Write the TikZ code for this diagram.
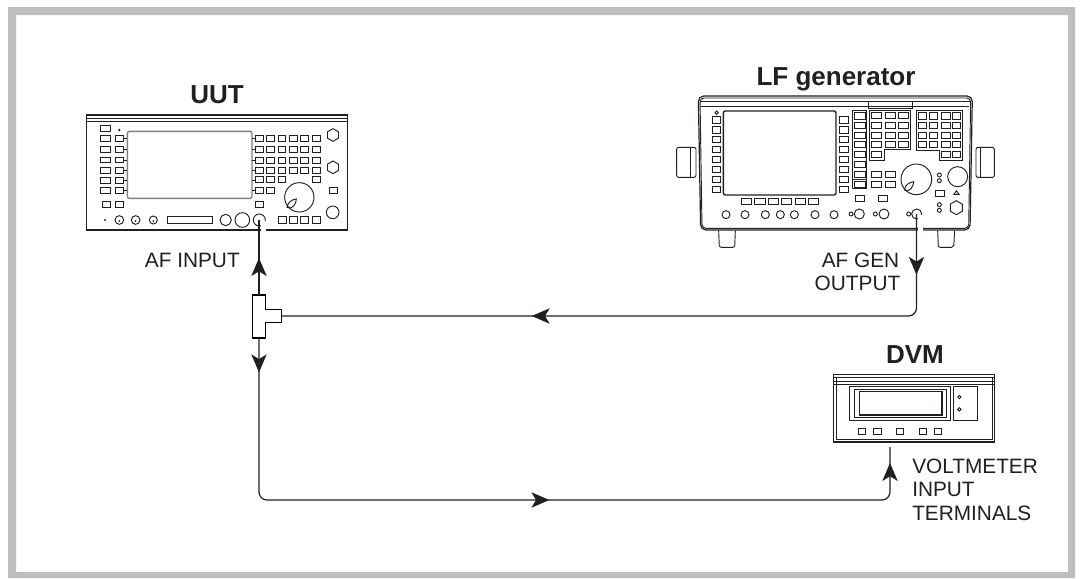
\documentclass[tikz,border=0pt]{standalone}
\usepackage{fontspec}
\setmainfont{Liberation Sans}
\usetikzlibrary{arrows.meta,decorations.markings}
\definecolor{framegray}{RGB}{190,190,190}
\definecolor{ink}{RGB}{35,31,32}
\newcommand{\keys}[3]{\foreach \xa/\xb in {#1}{\foreach \ya/\yb in {#2}{\draw[#3] (\xa,\ya) rectangle (\xb,\yb);}}}
\newcommand{\hexa}[3]{\draw (#1,#2)++(90:#3) -- ++(-30:#3) -- ++(-90:#3) -- ++(-150:#3) -- ++(150:#3) -- ++(90:#3) -- cycle;}
\newcommand{\leaf}[2]{\draw (#1,#2) .. controls (#1+2,#2-14) and (#1+14,#2-24) .. (#1+28,#2-25) .. controls (#1+28,#2-10) and (#1+16,#2+8) .. (#1,#2) -- cycle;}
\tikzset{
 x=0.75pt,y=-0.75pt,
 draw=ink,
 zoomA/.style={shift={(70,70)},x=0.25pt,y=-0.25pt,line width=0.7pt,draw=ink},
 zoomB/.style={shift={(660,60)},x=0.25pt,y=-0.25pt,line width=0.7pt,draw=ink},
 zoomC/.style={shift={(800,340)},x=0.25pt,y=-0.25pt,line width=0.7pt,draw=ink},
 title/.style={font=\fontsize{19.5pt}{22pt}\bfseries,text=ink,inner sep=0pt,anchor=base},
 lab/.style={font=\fontsize{15.6pt}{17.5pt}\selectfont,text=ink,inner sep=0pt,align=left},
 wire/.style={line width=0.9pt,draw=ink},
 tipa/.style={decoration={markings,mark=at position #1 with {\arrow{Stealth[length=13.5pt,width=11.5pt,inset=3.5pt]}}},postaction={decorate}},
 tipb/.style 2 args={decoration={markings,mark=at position #1 with {\arrow{Stealth[length=13.5pt,width=11.5pt,inset=3.5pt]}},mark=at position #2 with {\arrow{Stealth[length=13.5pt,width=11.5pt,inset=3.5pt]}}},postaction={decorate}},
 tipc/.style n args={3}{decoration={markings,mark=at position #1 with {\arrow{Stealth[length=13.5pt,width=11.5pt,inset=3.5pt]}},mark=at position #2 with {\arrow{Stealth[length=13.5pt,width=11.5pt,inset=3.5pt]}},mark=at position #3 with {\arrow{Stealth[length=13.5pt,width=11.5pt,inset=3.5pt]}}},postaction={decorate}},
}
\begin{document}
\begin{tikzpicture}
\useasboundingbox (0,0) rectangle (1081,578);
\fill[white] (0,0) rectangle (1081,578);
\fill[framegray,even odd rule] (8,7) rectangle (1075,578) (16,15) rectangle (1068,572);

% ---- UUT
\begin{scope}[zoomA]
 \draw[line width=0.9pt] (50,135) rectangle (832,480);
 \draw (50,145) -- (832,145) (50,155) -- (832,155);
 \draw[line width=1pt,draw=gray,rounded corners=1.5pt] (172,184) rectangle (546,385);
 \keys{92/122}{167/185,197/215,229/247,262/278,293/311,322/340,351/369}{}
 \keys{136/160}{197/215,229/247,262/278,293/311,322/340,351/369,394/412}{}
 \draw (97,394) rectangle (120,412);
 \foreach \y in {206,238,270,302,331,360} {\draw (160,\y) -- (172,\y) (546,\y) -- (555,\y);}
 \keys{555/579,590/613,624/647,658/682,692/716,726/750}{197/215,229/247,261/279,291/309}{}
 \keys{555/579,590/613,624/647,726/750}{320/338}{}
 \keys{555/579,590/613}{351/369}{}
 \draw (555,394) rectangle (579,412);
 \hexa{789}{195}{19}
 \hexa{789}{292}{19}
 \draw (778,351) rectangle (802,369);
 \draw (788,427) circle (19);
 \draw (688,382) circle (44);
 \leaf{651}{412}
 \keys{624/648,658/682,692/716,726/750}{439/460}{}
 \fill[ink] (148,180) circle (4);
 \fill[ink] (105,450) circle (3.5);
 \foreach \x/\r in {148/13,197/13,250/12} {\draw (\x,450) circle (\r); \fill[ink] (\x,453) circle (3);}
 \draw (292,440) rectangle (426,460);
 \draw (467,450) circle (17) (517,450) circle (22) (568,450) circle (18);
 \fill[white] (572,454) rectangle (587,486);
\end{scope}
\node[title] (uutlabel) at (217,103.3) {UUT};

% ---- LF generator
\begin{scope}[zoomB]
 \draw[line width=0.9pt,rounded corners=4pt] (122,510) -- (115,108) -- (937,108) -- (930,510) -- cycle;
 \draw[rounded corners=3pt] (126,505) -- (120,114) -- (932,114) -- (926,505) -- cycle;
 \draw (122,140) -- (928,140) (121,125) -- (625,125) (757,125) -- (931,125);
 \draw[line width=0.9pt] (625,125) rectangle (757,145);
 \draw[line width=1pt,rounded corners=1.5pt] (190,153) rectangle (528,405);
 \draw (170,158) circle (5);
 \keys{156/181,538/564}{170/190,200/220,230/248,260/278,289/308,319/338,349/368,378/397}{}
 \keys{583/615}{157/177,187/205,217/235,245/263,275/293,304/322,333/351,363/383}{}
 \draw (578,385) -- (578,150) -- (620,150) -- (620,385) -- cycle (578,357) -- (620,357);
 \keys{635/665,675/705,715/745}{157/175,187/205,217/235,245/263}{}
 \draw (635,275) rectangle (665,293);
 \draw (628,150) -- (750,150) -- (750,268) -- (672,268) -- (672,302) -- (628,302) -- cycle;
 \keys{775/800,808/832,845/870,877/902}{157/177,187/205,217/235,245/263}{}
 \keys{845/870,877/902}{275/293}{}
 \draw (768,150) -- (908,150) -- (908,300) -- (838,300) -- (838,270) -- (768,270) -- cycle;
 \keys{635/665,675/705}{335/351,363/381}{}
 \keys{587/612,656/682}{405/423}{}
 \keys{244/275,284/315,325/355,365/395,405/435,445/475}{415/433}{}
 \foreach \x in {198,255,316,361,403,465,522} {\draw (\x,464) circle (12);}
 \draw (573,462) circle (6) (598,462) circle (15) (646,462) circle (6) (672,462) circle (15) (746,462) circle (6) (770,462) circle (15);
 \fill[white] (774,466) rectangle (790,514);
 \draw (769,358) circle (46);
 \leaf{733}{390}
 \draw (893,350) circle (30);
 \draw (838,345) circle (6) (838,362) circle (6) (838,434) circle (6) (838,451) circle (6);
 \draw (826,390) rectangle (852,408);
 \draw (882,403) -- (889,392) -- (897,403) -- cycle;
 \hexa{889}{443}{21}
 \draw[rounded corners=1.5pt] (108,262) -- (50,262) -- (50,352) -- (108,352) -- cycle;
 \draw (90,262) -- (90,352);
 \draw[rounded corners=1.5pt] (948,262) -- (1003,262) -- (1003,352) -- (948,352) -- cycle;
 \draw (962,262) -- (962,352);
 \draw[rounded corners=1.5pt] (176,513) -- (178,562) -- (224,562) -- (226,513);
 \draw[rounded corners=1.5pt] (833,513) -- (835,562) -- (881,562) -- (884,513);
\end{scope}
\node[title] (lflabel) at (836,85) {LF generator};

% ---- DVM
\begin{scope}[zoomC]
 \draw[line width=0.8pt] (100,104) rectangle (584,306);
 \draw (108,110) -- (108,298) -- (576,298) -- (576,110);
 \draw (100,112) -- (584,112) (100,124) -- (584,124) (100,132) -- (584,132);
 \draw (149,139) rectangle (452,241);
 \draw (163,148) rectangle (438,232);
 \draw[line width=0.9pt] (178,154) rectangle (426,225);
 \draw (460,139) rectangle (533,241);
 \draw (478,171) circle (5) (478,208) circle (5);
 \keys{176/197,221/243,290/310,358/380,403/425}{266/284}{}
\end{scope}
\node[title] (dvmlabel) at (915,363.3) {DVM};

% ---- T piece
\node[inner sep=0pt,minimum size=0pt] (tee) at (259,316) {};
\coordinate (uutport) at (259,220);
\coordinate (teetop) at (259,295);
\coordinate (teebot) at (259,338);
\coordinate (teeside) at (281.5,316);
\coordinate (genport) at (916.5,214);
\coordinate (dvmport) at (890,447);
\draw[line width=0.9pt,fill=white] (252.5,295) -- (265.5,295) -- (265.5,309.5) -- (281.5,309.5) -- (281.5,322.5) -- (265.5,322.5) -- (265.5,338) -- (252.5,338) -- cycle;

\draw[wire,tipa=0.493] (teetop) -- (uutport);
\draw[wire,rounded corners=6pt,tipb={0.083}{0.659}] (genport) -- (916.5,316) -- (teeside);
\draw[wire,rounded corners=6pt,tipc={0.041}{0.535}{0.981}] (teebot) -- (259,500) -- (890,500) -- (dvmport);

% ---- labels
\node[lab,anchor=base east] (afin) at (240,267) {AF INPUT};
\node[lab,anchor=base east] (afgen) at (899.5,267) {AF GEN};
\node[lab,anchor=base east] (afgen2) at (900.5,290) {OUTPUT};
\node[lab,anchor=base west] (v1) at (912,473) {VOLTMETER};
\node[lab,anchor=base west] (v2) at (912,496.5) {INPUT};
\node[lab,anchor=base west] (v3) at (912,520) {TERMINALS};
\end{tikzpicture}
\end{document}
